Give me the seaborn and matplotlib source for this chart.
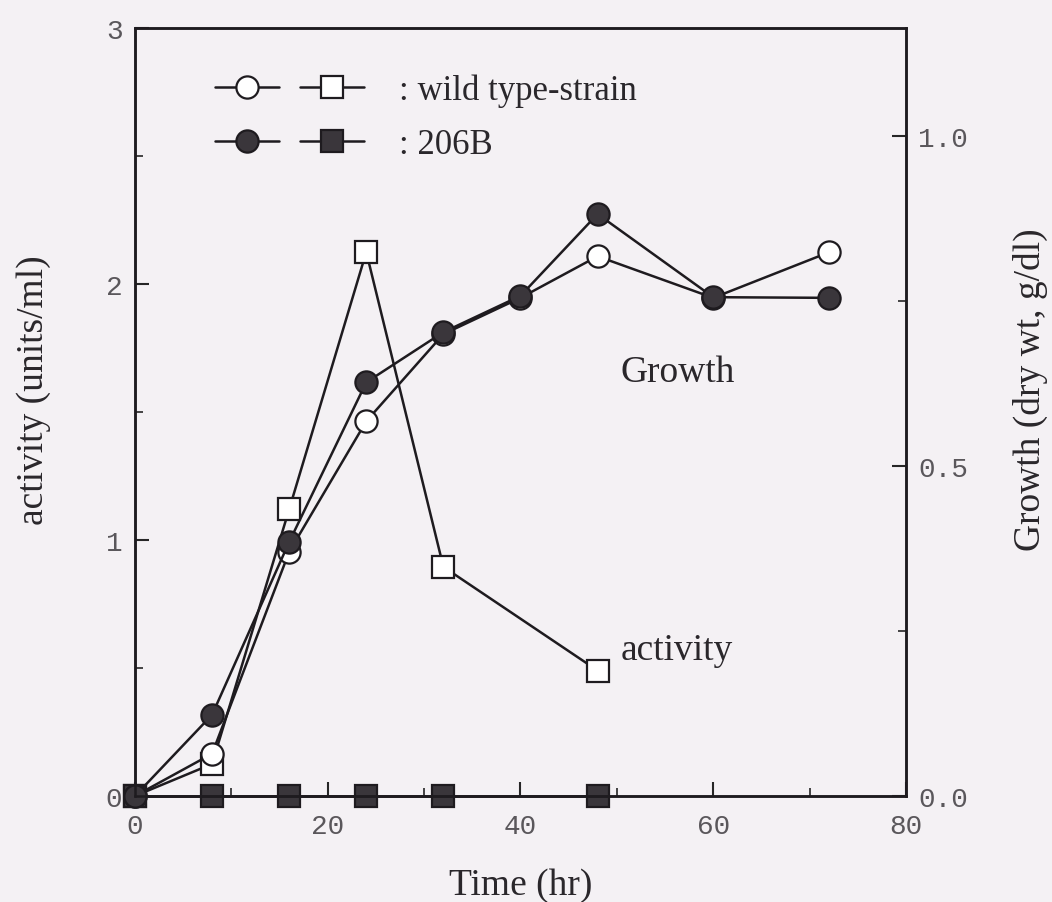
import matplotlib
matplotlib.use("Agg")
import matplotlib.pyplot as plt
from matplotlib.lines import Line2D
from matplotlib.legend_handler import HandlerTuple
import seaborn as sns

# growth (right axis, g/dl) sampled at these times
time_growth = [0, 8, 16, 24, 32, 40, 48, 60, 72]
growth_wild = [0.0, 0.064, 0.37, 0.568, 0.70, 0.755, 0.818, 0.755, 0.824]
growth_206b = [0.0, 0.123, 0.385, 0.627, 0.703, 0.758, 0.882, 0.756, 0.755]

# activity (left axis, units/ml)
time_activity = [0, 8, 16, 24, 32, 48]
activity_wild = [0.0, 0.125, 1.12, 2.125, 0.895, 0.49]
activity_206b = [0.0, 0.0, 0.0, 0.0, 0.0, 0.0]

x_ticks = [0, 20, 40, 60, 80]
x_minor = [10, 30, 50, 70]
left_ticks = [0, 1, 2, 3]
left_minor = [0.5, 1.5, 2.5]
right_ticks = [0.0, 0.5, 1.0]
right_labels = ["0.0", "0.5", "1.0"]
right_minor = [0.25, 0.75]
growth_top = 1.164

legend_labels = [": wild type-strain", ": 206B"]

sns.set_style("ticks")
plt.rcParams["font.family"] = ["Liberation Serif", "DejaVu Serif"]

bg = "#f4f1f4"
ink = "#1e1b1f"
txt = "#2a272b"
serif = "Liberation Serif"
mono = "Liberation Mono"

fig = plt.figure(figsize=(10.52, 9.03), dpi=100, facecolor=bg)
ax = fig.add_axes([0.1283, 0.1174, 0.7329, 0.8505])
ax.set_facecolor(bg)
ax2 = ax.twinx()

open_style = dict(color=ink, lw=1.8, markersize=16, markerfacecolor="white",
                  markeredgecolor=ink, markeredgewidth=1.6)
fill_style = dict(color=ink, lw=1.8, markersize=16, markerfacecolor="#3a363b",
                  markeredgecolor=ink, markeredgewidth=1.6)

sns.lineplot(x=time_activity, y=activity_wild, ax=ax, marker="s", clip_on=False, **open_style)
sns.lineplot(x=time_activity, y=activity_206b, ax=ax, marker="s", clip_on=False, **fill_style)
sns.lineplot(x=time_growth, y=growth_wild, ax=ax2, marker="o", clip_on=False, **open_style)
sns.lineplot(x=time_growth, y=growth_206b, ax=ax2, marker="o", clip_on=False, **fill_style)

ax.set_xlim(0, 80)
ax.set_ylim(0, 3)
ax2.set_ylim(0, growth_top)

ax.set_xticks(x_ticks)
ax.set_xticks(x_minor, minor=True)
ax.set_yticks(left_ticks)
ax.set_yticks(left_minor, minor=True)
ax2.set_yticks(right_ticks)
ax2.set_yticklabels(right_labels)
ax2.set_yticks(right_minor, minor=True)

for a in (ax, ax2):
    a.tick_params(which="major", direction="in", length=10, width=1.5, labelsize=20,
                  labelcolor="#5a575b", labelfontfamily=mono, pad=9)
    a.tick_params(which="minor", direction="in", length=6, width=1.2)
    for s in a.spines.values():
        s.set_linewidth(1.8)
        s.set_color(ink)
ax.tick_params(axis="y", right=False, which="both")
ax.tick_params(axis="x", top=False, which="both", pad=12)

ax.set_xlabel("Time (hr)", fontsize=27, family=serif, color=txt, labelpad=21)
ax.set_ylabel("activity (units/ml)", fontsize=27, family=serif, color=txt)
ax2.set_ylabel("Growth (dry wt, g/dl)", fontsize=27, family=serif, color=txt, rotation=90)
ax.yaxis.set_label_coords(-0.109, 0.53)
ax2.yaxis.set_label_coords(1.139, 0.53)

ax.text(50.4, 1.62, "Growth", fontsize=27, family=serif, color=txt, va="baseline")
ax.text(50.4, 0.535, "activity", fontsize=27, family=serif, color=txt, va="baseline")

h_open_c = Line2D([], [], marker="o", **open_style)
h_open_s = Line2D([], [], marker="s", **open_style)
h_fill_c = Line2D([], [], marker="o", **fill_style)
h_fill_s = Line2D([], [], marker="s", **fill_style)

ax2.legend(handles=[(h_open_c, h_open_s), (h_fill_c, h_fill_s)], labels=legend_labels,
           handler_map={tuple: HandlerTuple(ndivide=None, pad=0.6)},
           loc="upper left", bbox_to_anchor=(0.104, 0.941), frameon=False,
           prop={"family": serif, "size": 25}, handlelength=4.3, handletextpad=1.0,
           labelspacing=0.62, borderpad=0, borderaxespad=0, labelcolor=txt)

fig.savefig("out.png", dpi=100, facecolor=bg)
